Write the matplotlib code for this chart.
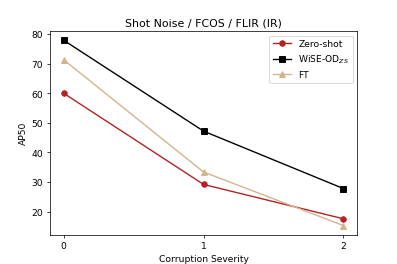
import matplotlib
matplotlib.use('Agg')
import matplotlib.pyplot as plt

severity = [0, 1, 2]
zero_shot = [60.0, 29.2, 17.6]
wise_od = [77.9, 47.2, 27.8]
ft = [71.3, 33.4, 15.3]

fig = plt.figure(figsize=(6, 4), dpi=66.2)
ax = fig.add_subplot(111)
ax.plot(severity, zero_shot, 'o-', color='firebrick', label='Zero-shot')
ax.plot(severity, wise_od, 's-', color='black', label='WiSE-OD$_{ZS}$')
ax.plot(severity, ft, '^-', color='tan', label='FT')
ax.set_xticks(severity)
ax.set_xlabel('Corruption Severity')
ax.set_ylabel('AP50')
ax.set_title('Shot Noise / FCOS / FLIR (IR)')
ax.legend(loc='upper right')
fig.savefig('out.png', dpi=66.2)
